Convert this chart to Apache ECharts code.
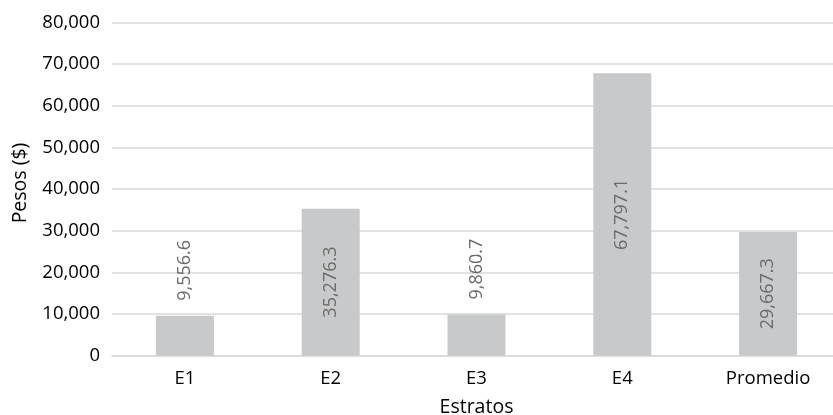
<!DOCTYPE html>
<html><head><meta charset="utf-8">
<script src="https://cdn.jsdelivr.net/npm/echarts@6/dist/echarts.min.js"></script>
<style>html,body{margin:0;padding:0;background:#fff}#c{width:833px;height:415px}</style>
</head><body><div id="c"></div>
<script>
const categories = ['E1', 'E2', 'E3', 'E4', 'Promedio'];
const values = [9556.6, 35276.3, 9860.7, 67797.1, 29667.3];
const yTicks = [0, 10000, 20000, 30000, 40000, 50000, 60000, 70000, 80000];

const fmt = v => v.toLocaleString('en-US', {minimumFractionDigits: 1, maximumFractionDigits: 1});
const FONT = 'Open Sans';

const data = values.map(v => {
  const outside = v < 20000;
  return {
    value: v,
    label: outside
      ? {position: 'top', rotate: 90, align: 'left', verticalAlign: 'middle', distance: 15}
      : {position: 'inside', rotate: 90, align: 'center', verticalAlign: 'middle'}
  };
});

const chart = echarts.init(document.getElementById('c'), null, {renderer: 'canvas'});
chart.setOption({
  animation: false,
  textStyle: {fontFamily: FONT},
  grid: {left: 112, right: -8, top: 22.5, bottom: 59.5, containLabel: false, outerBoundsMode: 'none'},
  xAxis: {
    type: 'category',
    data: categories,
    name: 'Estratos',
    nameLocation: 'middle',
    nameGap: 42,
    nameTextStyle: {fontSize: 19.5, color: '#000', fontFamily: FONT},
    axisLine: {show: true, lineStyle: {color: '#d9d9d9', width: 1.5}},
    axisTick: {show: false},
    axisLabel: {fontSize: 18.5, color: '#000', margin: 14, fontFamily: FONT}
  },
  yAxis: {
    type: 'value',
    min: yTicks[0],
    max: yTicks[yTicks.length - 1],
    interval: yTicks[1] - yTicks[0],
    name: 'Pesos ($)',
    nameLocation: 'middle',
    nameGap: 82,
    nameTextStyle: {fontSize: 19.5, color: '#000', fontFamily: FONT, padding: [0, 0, 0, 12]},
    axisLine: {show: false},
    axisTick: {show: false},
    axisLabel: {fontSize: 18.5, color: '#000', margin: 12, fontFamily: FONT,
      formatter: v => v.toLocaleString('en-US')},
    splitLine: {lineStyle: {color: '#d9d9d9', width: 1.5}}
  },
  series: [{
    type: 'bar',
    data: data,
    barWidth: 58,
    itemStyle: {color: '#c8c9ca'},
    label: {show: true, fontSize: 18, color: '#6b6b6b', fontFamily: FONT,
      formatter: p => fmt(p.value)}
  }]
});
</script></body></html>
